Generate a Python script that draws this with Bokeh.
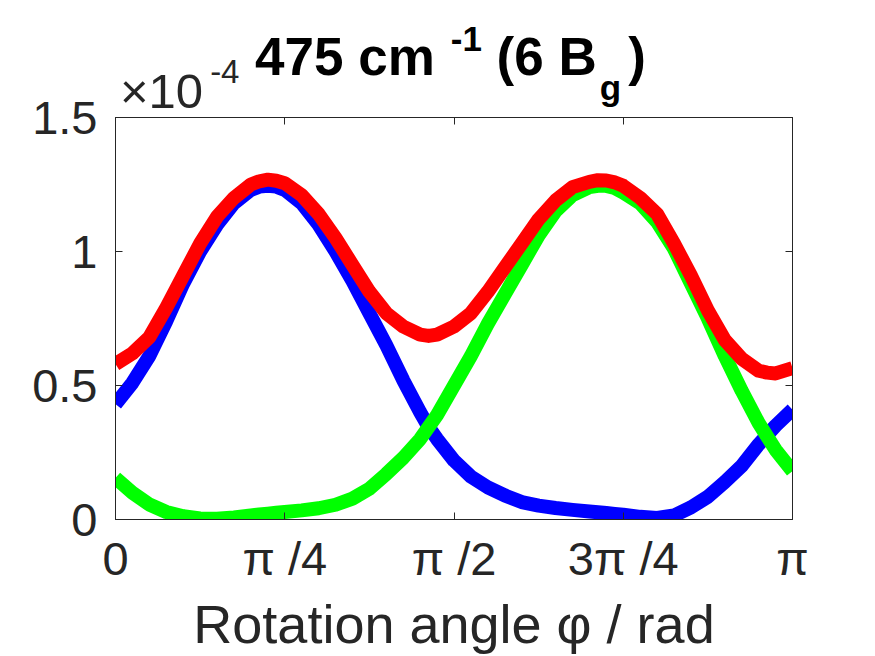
import numpy as np
from bokeh.plotting import figure
from bokeh.models import Range1d, FixedTicker, LinearAxis, Div
from bokeh.layouts import column
from bokeh.embed import file_html
from bokeh.resources import INLINE

# ---- data (angle as fraction of pi, intensity in units of 1e-4) ----
phi_frac = [0.000, 0.025, 0.050, 0.075, 0.100, 0.125, 0.150, 0.175, 0.200, 0.2125,
            0.225, 0.2375, 0.250, 0.275, 0.300, 0.325, 0.350, 0.375, 0.400, 0.425,
            0.450, 0.4625, 0.475, 0.500, 0.525, 0.550, 0.575, 0.600, 0.625, 0.650,
            0.675, 0.700, 0.7125, 0.725, 0.7375, 0.750, 0.775, 0.800, 0.825, 0.850,
            0.875, 0.900, 0.925, 0.950, 0.9625, 0.975, 1.000]
blue_vals = [0.43, 0.51, 0.61, 0.74, 0.88, 1.00, 1.10, 1.18, 1.23, 1.242,
             1.245, 1.242, 1.23, 1.18, 1.10, 1.00, 0.89, 0.77, 0.65, 0.52,
             0.40, 0.345, 0.30, 0.22, 0.16, 0.12, 0.09, 0.065, 0.052, 0.043,
             0.036, 0.030, 0.027, 0.024, 0.021, 0.018, 0.010, 0.006, 0.015, 0.045,
             0.085, 0.14, 0.20, 0.28, 0.315, 0.35, 0.41]
green_vals = [0.155, 0.10, 0.056, 0.028, 0.012, 0.004, 0.003, 0.008, 0.015, 0.019,
              0.022, 0.025, 0.028, 0.034, 0.042, 0.055, 0.078, 0.115, 0.17, 0.23,
              0.30, 0.345, 0.39, 0.50, 0.61, 0.73, 0.84, 0.95, 1.06, 1.15,
              1.21, 1.24, 1.245, 1.245, 1.237, 1.22, 1.18, 1.11, 1.01, 0.88,
              0.75, 0.61, 0.48, 0.36, 0.31, 0.26, 0.18]
red_vals = [0.58, 0.62, 0.68, 0.79, 0.91, 1.03, 1.13, 1.20, 1.25, 1.262,
            1.268, 1.264, 1.255, 1.21, 1.14, 1.05, 0.95, 0.85, 0.77, 0.72,
            0.69, 0.685, 0.69, 0.72, 0.77, 0.85, 0.94, 1.03, 1.12, 1.19,
            1.24, 1.26, 1.266, 1.265, 1.258, 1.245, 1.20, 1.14, 1.03, 0.91,
            0.78, 0.67, 0.60, 0.555, 0.548, 0.545, 0.565]

x_ticks = [0, np.pi / 4, np.pi / 2, 3 * np.pi / 4, np.pi]
x_tick_labels = ["0", "π /4", "π /2", "3π /4", "π"]
y_ticks = [0, 0.5, 1.0, 1.5]
y_tick_labels = ["0", "0.5", "1", "1.5"]

phi = np.pi * np.array(phi_frac)

AX = "#262626"
FONT = "Liberation Sans"
HEAD_H = 84

# ---- title / exponent as HTML text above the plot (overflows onto the plot border) ----
def line_html(left, baseline, size, bold, color, inner):
    top = baseline - 0.8465 * size
    return (f'<span style="position:absolute;left:{left}px;top:{top:.1f}px;'
            f'font-family:\'{FONT}\';font-size:{size}px;line-height:{size}px;'
            f'font-weight:{"bold" if bold else "normal"};color:{color};white-space:nowrap;'
            f'margin:0;padding:0;">{inner}</span>')

def shifted(text, size, dy, ml):
    return (f'<span style="display:inline-block;font-size:{size}px;line-height:{size}px;'
            f'vertical-align:baseline;position:relative;top:{dy}px;margin-left:{ml}px;">{text}</span>')

title_inner = ("475 cm" + shifted("-1", 35, -24, 16) + " (6 B"
               + shifted("g", 35, 25, 3) + '<span style="margin-left:7px;">)</span>')
expo_inner = "×10" + shifted("-4", 33, -25, 7)

head_html = (f'<div style="position:relative;width:875px;height:{HEAD_H}px;margin:0;padding:0;overflow:visible;">'
             + line_html(255, 75, 53, True, "#000000", title_inner)
             + line_html(120, 108, 49, False, AX, expo_inner)
             + '</div>')
head = Div(text=head_html, width=875, height=HEAD_H, margin=(0, 0, 0, 0),
           styles={"overflow": "visible", "z-index": "2"})

p = figure(width=875, height=656 - HEAD_H, x_range=Range1d(0, np.pi), y_range=Range1d(0, 1.5),
           output_backend="svg", toolbar_location=None, title=None, margin=(0, 0, 0, 0),
           min_border_left=115, min_border_right=83, min_border_top=117 - HEAD_H,
           min_border_bottom=136)
p.xgrid.visible = False
p.ygrid.visible = False
p.outline_line_color = AX
p.outline_line_width = 1
p.background_fill_color = "white"
p.border_fill_color = None

def style_axis(ax, ticks, labels, show):
    ax.ticker = FixedTicker(ticks=ticks)
    ax.major_label_overrides = {t: (l if show else "") for t, l in zip(ticks, labels)}
    ax.minor_tick_line_color = None
    ax.major_tick_in = 7
    ax.major_tick_out = 0
    ax.axis_line_color = AX
    ax.major_tick_line_color = AX
    ax.major_label_text_font = FONT
    ax.major_label_text_font_size = "47px" if show else "0px"
    ax.major_label_text_color = AX
    if not show:
        ax.major_label_standoff = 0

style_axis(p.xaxis[0], x_ticks, x_tick_labels, True)
style_axis(p.yaxis[0], y_ticks, y_tick_labels, True)
p.xaxis[0].major_label_standoff = 12
p.yaxis[0].major_label_standoff = 18
p.xaxis[0].axis_label = "Rotation angle φ / rad"
p.xaxis[0].axis_label_text_font = FONT
p.xaxis[0].axis_label_text_font_size = "54px"
p.xaxis[0].axis_label_text_font_style = "normal"
p.xaxis[0].axis_label_text_color = AX
p.xaxis[0].axis_label_standoff = 6

top_ax = LinearAxis()
style_axis(top_ax, x_ticks, x_tick_labels, False)
p.add_layout(top_ax, "above")
right_ax = LinearAxis()
style_axis(right_ax, y_ticks, y_tick_labels, False)
p.add_layout(right_ax, "right")

p.line(phi, blue_vals, line_color="#0000FF", line_width=14, line_join="round")
p.line(phi, green_vals, line_color="#00FF00", line_width=14, line_join="round")
p.line(phi, red_vals, line_color="#FF0000", line_width=14, line_join="round")

layout = column(head, p, spacing=0, margin=(0, 0, 0, 0))
open("out.html", "w").write(file_html(layout, INLINE))
